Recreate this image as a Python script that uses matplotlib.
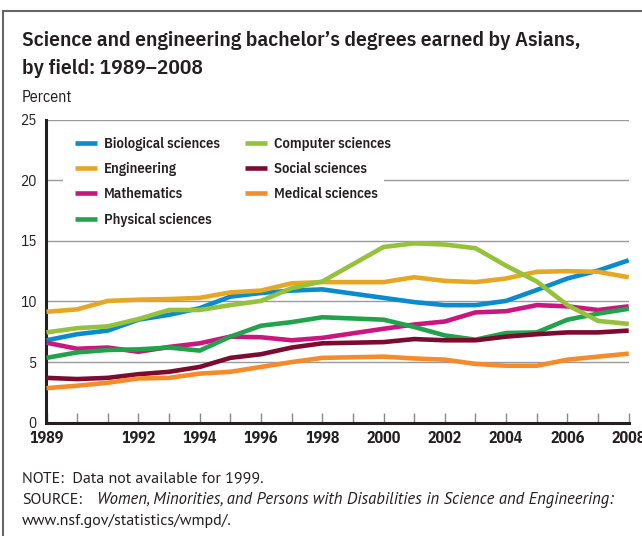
import matplotlib
matplotlib.use("Agg")
import matplotlib.pyplot as plt
from matplotlib.lines import Line2D
from matplotlib.patches import Rectangle

# data (1999 not available)
years = [1989, 1990, 1991, 1992, 1993, 1994, 1995, 1996, 1997, 1998,
         2000, 2001, 2002, 2003, 2004, 2005, 2006, 2007, 2008]

biological = [6.8, 7.3, 7.6, 8.5, 8.9, 9.45, 10.4, 10.7, 10.9, 11.0,
              10.3, 9.95, 9.7, 9.7, 10.05, 10.95, 11.9, 12.55, 13.4]
engineering = [9.15, 9.35, 10.05, 10.15, 10.2, 10.3, 10.75, 10.9, 11.5, 11.6,
               11.6, 12.0, 11.7, 11.6, 11.9, 12.45, 12.5, 12.45, 12.0]
mathematics = [6.6, 6.1, 6.2, 5.85, 6.25, 6.55, 7.1, 7.05, 6.8, 7.0,
               7.75, 8.1, 8.35, 9.1, 9.2, 9.7, 9.6, 9.3, 9.6]
physical = [5.35, 5.8, 6.0, 6.05, 6.2, 5.95, 7.1, 8.0, 8.3, 8.7,
            8.5, 7.9, 7.2, 6.85, 7.4, 7.45, 8.5, 9.0, 9.4]
computer = [7.45, 7.8, 7.95, 8.55, 9.3, 9.3, 9.7, 10.05, 11.1, 11.65,
            14.5, 14.8, 14.7, 14.4, 12.95, 11.65, 9.7, 8.4, 8.15]
social = [3.7, 3.6, 3.7, 4.0, 4.2, 4.6, 5.35, 5.65, 6.2, 6.55,
          6.65, 6.9, 6.8, 6.8, 7.1, 7.3, 7.45, 7.45, 7.6]
medical = [2.85, 3.05, 3.3, 3.65, 3.7, 4.05, 4.2, 4.6, 5.0, 5.35,
           5.45, 5.3, 5.2, 4.85, 4.7, 4.7, 5.2, 5.45, 5.7]

series = [
    ("Biological sciences", biological, "#0a8bcb"),
    ("Engineering", engineering, "#e6a724"),
    ("Mathematics", mathematics, "#c8177e"),
    ("Physical sciences", physical, "#22a24b"),
    ("Computer sciences", computer, "#95c13d"),
    ("Social sciences", social, "#7b0b30"),
    ("Medical sciences", medical, "#f68b2b"),
]

xtick_labels = [1989, 1992, 1994, 1996, 1998, 2000, 2002, 2004, 2006, 2008]
yticks = [0, 5, 10, 15, 20, 25]

cond = ["IBM Plex Sans Condensed", "DejaVu Sans"]
body = ["Source Sans Pro", "PT Sans", "Lato", "DejaVu Sans"]
ink = "#231f20"
plt.rcParams["font.family"] = cond

W, H = 642, 536
L, R, B, T = 46.5, 628.7, 422.7, 119.7   # axes box in pixels

fig = plt.figure(figsize=(W / 100, H / 100), dpi=100)
ax = fig.add_axes([L / W, 1 - B / H, (R - L) / W, (B - T) / H])
ax.set_axisbelow(True)

lines = []
for name, vals, col in series:
    ln, = ax.plot(years, vals, color=col, lw=3.3, label=name, solid_capstyle="butt", zorder=3)
    lines.append(ln)

ax.set_xlim(1989, 2008)
ax.set_ylim(0, 25)

ax.set_yticks(yticks)
ax.set_yticklabels([str(v) for v in yticks], fontsize=11, color=ink)
ax.yaxis.grid(True, color="#9a9a9a", lw=1.0)
ax.tick_params(axis="y", length=0, pad=7)

ax.set_xticks(range(1989, 2009), minor=True)
ax.set_xticks(xtick_labels)
ax.set_xticklabels([str(v) for v in xtick_labels], fontsize=11.5, fontweight="bold", color=ink)
ax.tick_params(axis="x", which="both", direction="in", length=7, width=1, color="#888888", pad=6)

for s in ["top", "right"]:
    ax.spines[s].set_visible(False)
for s in ["left", "bottom"]:
    ax.spines[s].set_linewidth(2.2)
    ax.spines[s].set_color(ink)


def px2ax(x, y):
    return (x - L) / (R - L), (B - y) / (B - T)


# white panel behind the legend (hides the 20 % gridline there)
x0, y0 = px2ax(63, 235)
x1, y1 = px2ax(384, 128)
ax.add_patch(Rectangle((x0, y0), x1 - x0, y1 - y0, transform=ax.transAxes,
                       facecolor="white", edgecolor="none", zorder=1))

leg_kw = dict(loc="upper left", frameon=False, fontsize=10.5, handlelength=1.5,
              handletextpad=0.5, labelspacing=0.77, borderpad=0, borderaxespad=0)
leg1 = ax.legend(handles=lines[:4], bbox_to_anchor=px2ax(75, 137), **leg_kw)
ax.add_artist(leg1)
leg2 = ax.legend(handles=lines[4:], bbox_to_anchor=px2ax(245, 137), **leg_kw)
for lg in (leg1, leg2):
    for t in lg.get_texts():
        t.set_fontweight("semibold")
        t.set_color(ink)

renderer = fig.canvas.get_renderer()


def fit_width(txt, width_px):
    # scale font size so the text spans the width seen in the original
    w = txt.get_window_extent(renderer).width
    txt.set_fontsize(txt.get_fontsize() * width_px / w)


t1 = fig.text(22 / W, 1 - 40 / H, "Science and engineering bachelor\u2019s degrees earned by Asians,",
              fontsize=15.5, fontweight="semibold", color=ink, va="center", ha="left")
fit_width(t1, 556)
fig.text(22 / W, 1 - 68 / H, "by field: 1989\u20132008",
         fontsize=t1.get_fontsize(), fontweight="semibold", color=ink, va="center", ha="left")
fig.text(22 / W, 1 - 97 / H, "Percent", fontsize=11.5, color=ink, va="center", ha="left")

note = fig.text(22 / W, 1 - 478 / H, "NOTE:  Data not available for 1999.", fontsize=12,
                family=body, color=ink, va="center", ha="left")
fit_width(note, 241)
fs = note.get_fontsize()
fig.text(22 / W, 1 - 499.5 / H, "SOURCE:", fontsize=fs, family=body, color=ink,
         va="center", ha="left")
ital = fig.text(97 / W, 1 - 499.5 / H,
                "Women, Minorities, and Persons with Disabilities in Science and Engineering:",
                fontsize=fs, family=body, style="italic", color=ink, va="center", ha="left")
fit_width(ital, 515)
fig.text(22 / W, 1 - 521 / H, "www.nsf.gov/statistics/wmpd/.", fontsize=fs,
         family=body, color=ink, va="center", ha="left")

# outer frame (left and top edges)
fig.add_artist(Line2D([3 / W, 3 / W], [0, 1 - 11 / H], color="#666666", lw=1.5))
fig.add_artist(Line2D([3 / W, 1], [1 - 11 / H, 1 - 11 / H], color="#666666", lw=1.5))

fig.savefig("out.png", dpi=100)
